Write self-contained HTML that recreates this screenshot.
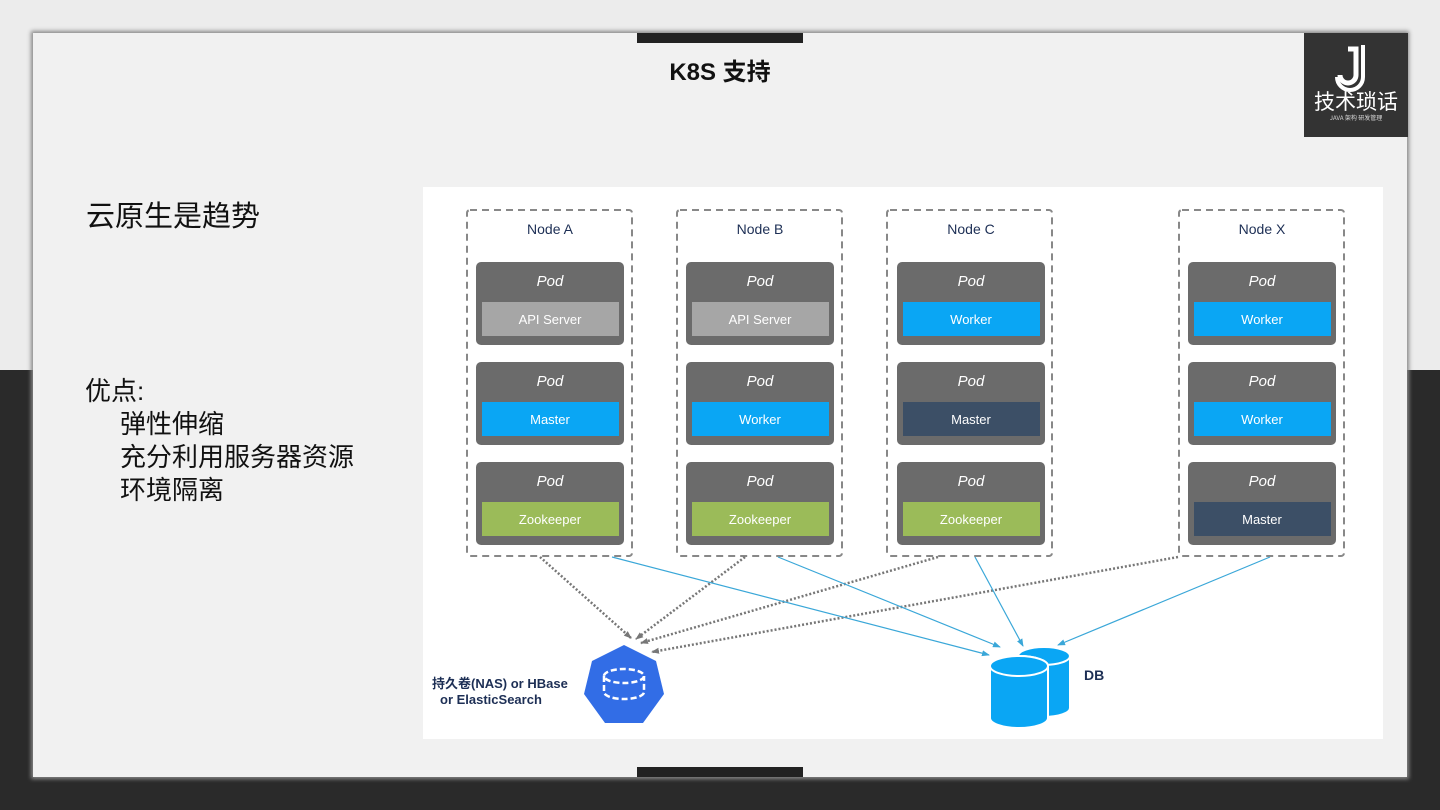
<!DOCTYPE html>
<html><head><meta charset="utf-8"><style>
body{margin:0;width:1440px;height:810px;position:relative;overflow:hidden;background:#2a2a2a;font-family:"Liberation Sans","Noto Sans CJK SC",sans-serif}
.top{position:absolute;left:0;top:0;width:1440px;height:370px;background:#ececec}
.slide{position:absolute;left:33px;top:33px;width:1374px;height:744px;background:#f1f1f1;box-shadow:0 0 4px 2px #888}
.t{position:absolute;color:#111;white-space:nowrap}
</style></head><body>
<div class="top"></div>
<div class="slide"></div>
<div style="position:absolute;left:637px;top:33px;width:166px;height:10px;background:#222"></div>
<div style="position:absolute;left:637px;top:767px;width:166px;height:10px;background:#222"></div>
<div class="t" style="left:0;width:1440px;text-align:center;top:52px;font-size:24px;font-weight:bold">K8S 支持</div>
<div style="position:absolute;left:1304px;top:33px;width:104px;height:104px;background:#333"></div>
<svg style="position:absolute;left:1304px;top:33px" width="104" height="104">
<path d="M44 16 h8 v26 a8 8 0 0 1 -16 0" fill="none" stroke="#fff" stroke-width="5"/>
<path d="M59 12 v32 a13 13 0 0 1 -26 0" fill="none" stroke="#fff" stroke-width="4"/>
<text x="52" y="76" fill="#fff" font-size="21" text-anchor="middle" font-family="Noto Sans CJK SC,sans-serif">技术琐话</text>
<text x="52" y="87" fill="#ddd" font-size="6" text-anchor="middle" font-family="Noto Sans CJK SC,sans-serif">JAVA 架构 研发管理</text>
</svg>
<div class="t" style="left:86px;top:193px;font-size:29px">云原生是趋势</div>
<div class="t" style="left:85px;top:375px;font-size:26px;line-height:33px">优点:</div>
<div class="t" style="left:120px;top:408px;font-size:26px;line-height:33px">弹性伸缩<br>充分利用服务器资源<br>环境隔离</div>
<svg style="position:absolute;left:0;top:0" width="1440" height="810" font-family="Liberation Sans,sans-serif">
<defs>
<marker id="ag" markerWidth="8" markerHeight="8" refX="7" refY="4" orient="auto" markerUnits="userSpaceOnUse"><path d="M0 1 L8 4 L0 7z" fill="#777"/></marker>
<marker id="ab" markerWidth="8" markerHeight="8" refX="7" refY="4" orient="auto" markerUnits="userSpaceOnUse"><path d="M0 1 L8 4 L0 7z" fill="#3aa7d8"/></marker>
</defs>
<rect x="423" y="187" width="960" height="552" fill="#fff"/>
<g fill="none" stroke="#888" stroke-width="2" stroke-dasharray="7 5">
<rect x="467" y="210" width="165" height="346" rx="3"/>
<rect x="677" y="210" width="165" height="346" rx="3"/>
<rect x="887" y="210" width="165" height="346" rx="3"/>
<rect x="1179" y="210" width="165" height="346" rx="3"/>
</g>
<g font-size="14" fill="#1d2f55" text-anchor="middle">
<text x="550" y="234">Node A</text><text x="760" y="234">Node B</text><text x="971" y="234">Node C</text><text x="1262" y="234">Node X</text>
</g>
<g font-size="13" text-anchor="middle">
<g>
<rect x="476" y="262" width="148" height="83" rx="5" fill="#6b6b6b"/><rect x="482" y="302" width="137" height="34" fill="#a6a6a6"/><text x="550" y="286" fill="#fff" font-size="15" font-style="italic">Pod</text><text x="550" y="324" fill="#fff">API Server</text>
<rect x="476" y="362" width="148" height="83" rx="5" fill="#6b6b6b"/><rect x="482" y="402" width="137" height="34" fill="#0aa6f4"/><text x="550" y="386" fill="#fff" font-size="15" font-style="italic">Pod</text><text x="550" y="424" fill="#fff">Master</text>
<rect x="476" y="462" width="148" height="83" rx="5" fill="#6b6b6b"/><rect x="482" y="502" width="137" height="34" fill="#9bbb59"/><text x="550" y="486" fill="#fff" font-size="15" font-style="italic">Pod</text><text x="550" y="524" fill="#fff">Zookeeper</text>
</g>
<g>
<rect x="686" y="262" width="148" height="83" rx="5" fill="#6b6b6b"/><rect x="692" y="302" width="137" height="34" fill="#a6a6a6"/><text x="760" y="286" fill="#fff" font-size="15" font-style="italic">Pod</text><text x="760" y="324" fill="#fff">API Server</text>
<rect x="686" y="362" width="148" height="83" rx="5" fill="#6b6b6b"/><rect x="692" y="402" width="137" height="34" fill="#0aa6f4"/><text x="760" y="386" fill="#fff" font-size="15" font-style="italic">Pod</text><text x="760" y="424" fill="#fff">Worker</text>
<rect x="686" y="462" width="148" height="83" rx="5" fill="#6b6b6b"/><rect x="692" y="502" width="137" height="34" fill="#9bbb59"/><text x="760" y="486" fill="#fff" font-size="15" font-style="italic">Pod</text><text x="760" y="524" fill="#fff">Zookeeper</text>
</g>
<g>
<rect x="897" y="262" width="148" height="83" rx="5" fill="#6b6b6b"/><rect x="903" y="302" width="137" height="34" fill="#0aa6f4"/><text x="971" y="286" fill="#fff" font-size="15" font-style="italic">Pod</text><text x="971" y="324" fill="#fff">Worker</text>
<rect x="897" y="362" width="148" height="83" rx="5" fill="#6b6b6b"/><rect x="903" y="402" width="137" height="34" fill="#3c4f66"/><text x="971" y="386" fill="#fff" font-size="15" font-style="italic">Pod</text><text x="971" y="424" fill="#fff">Master</text>
<rect x="897" y="462" width="148" height="83" rx="5" fill="#6b6b6b"/><rect x="903" y="502" width="137" height="34" fill="#9bbb59"/><text x="971" y="486" fill="#fff" font-size="15" font-style="italic">Pod</text><text x="971" y="524" fill="#fff">Zookeeper</text>
</g>
<g>
<rect x="1188" y="262" width="148" height="83" rx="5" fill="#6b6b6b"/><rect x="1194" y="302" width="137" height="34" fill="#0aa6f4"/><text x="1262" y="286" fill="#fff" font-size="15" font-style="italic">Pod</text><text x="1262" y="324" fill="#fff">Worker</text>
<rect x="1188" y="362" width="148" height="83" rx="5" fill="#6b6b6b"/><rect x="1194" y="402" width="137" height="34" fill="#0aa6f4"/><text x="1262" y="386" fill="#fff" font-size="15" font-style="italic">Pod</text><text x="1262" y="424" fill="#fff">Worker</text>
<rect x="1188" y="462" width="148" height="83" rx="5" fill="#6b6b6b"/><rect x="1194" y="502" width="137" height="34" fill="#3c4f66"/><text x="1262" y="486" fill="#fff" font-size="15" font-style="italic">Pod</text><text x="1262" y="524" fill="#fff">Master</text>
</g>
</g>
<g stroke="#777" stroke-width="2.5" stroke-dasharray="2 2" fill="none" marker-end="url(#ag)">
<line x1="540" y1="557" x2="631" y2="638"/>
<line x1="745" y1="557" x2="636" y2="639"/>
<line x1="938" y1="557" x2="641" y2="643"/>
<line x1="1178" y1="557" x2="652" y2="652"/>
</g>
<g stroke="#3aa7d8" stroke-width="1.2" fill="none" marker-end="url(#ab)">
<line x1="612" y1="557" x2="989" y2="655"/>
<line x1="778" y1="557" x2="1000" y2="647"/>
<line x1="975" y1="557" x2="1023" y2="646"/>
<line x1="1270" y1="557" x2="1058" y2="645"/>
</g>
<polygon points="624,645 656,661 664,694 643,723 605,723 584,694 592,661" fill="#326de6"/>
<g fill="none" stroke="#fff" stroke-width="2.5" stroke-dasharray="6 3">
<ellipse cx="624" cy="676" rx="20" ry="7"/>
<path d="M604 676 v16 a20 7 0 0 0 40 0 v-16"/>
</g>
<g fill="#0aa6f4" stroke="#fff" stroke-width="2">
<path d="M1018 656 a26 9 0 0 1 52 0 v52 a26 9 0 0 1 -52 0z"/>
<ellipse cx="1044" cy="656" rx="26" ry="9"/>
<path d="M990 666 a29 10 0 0 1 58 0 v52 a29 10 0 0 1 -58 0z"/>
<ellipse cx="1019" cy="666" rx="29" ry="10"/>
</g>
<text x="1084" y="680" font-size="14" font-weight="bold" fill="#1d2f55">DB</text>
<text x="432" y="688" font-size="13" font-weight="bold" fill="#1d2f55" font-family="Liberation Sans,Noto Sans CJK SC,sans-serif">持久卷(NAS) or HBase</text>
<text x="440" y="704" font-size="13" font-weight="bold" fill="#1d2f55">or ElasticSearch</text>
</svg>
</body></html>
